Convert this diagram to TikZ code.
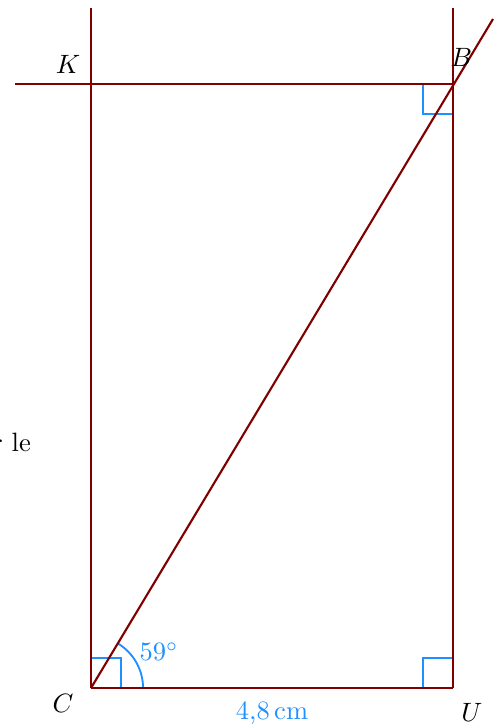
\documentclass[tikz,border=0pt]{standalone}
\usetikzlibrary{calc}
\definecolor{dred}{RGB}{128,0,0}
\definecolor{dblue}{RGB}{30,144,255}
\begin{document}
\begin{tikzpicture}[
  figline/.style={dred,line width=0.8pt},
  marker/.style={dblue,line width=0.7pt},
  lbl/.style={inner sep=1pt}
]
\useasboundingbox (-1.2066,-0.530) rectangle (5.396,9.122);
\coordinate (C) at (0,0);
\coordinate (U) at (4.8,0);
\coordinate (B) at (4.8,8.01);
\coordinate (K) at (0,8.01);
\coordinate (Ktop) at (0,9.02);
\coordinate (Btop) at (4.8,9.02);
\coordinate (Hleft) at (-1.01,8.01);
\coordinate (Dend) at (5.33,8.87);
% right angle marks
\draw[marker] (0,0.4) -- (0.4,0.4) -- (0.4,0);
\draw[marker] (4.4,0) -- (4.4,0.4) -- (4.8,0.4);
\draw[marker] (4.4,8.01) -- (4.4,7.61) -- (4.8,7.61);
\draw[marker] (0.69,0) arc (0:59:0.69);
% lines
\draw[figline] (C) -- (Ktop);
\draw[figline] (U) -- (Btop);
\draw[figline] (Hleft) -- (B);
\draw[figline] (C) -- (U);
\draw[figline] (C) -- (Dend);
% labels
\node[lbl] (lK) at (-0.305,8.27) {$K$};
\node[lbl] (lB) at (4.91,8.36) {$B$};
\node[lbl] (lC) at (-0.37,-0.2) {$C$};
\node[lbl] (lU) at (5.05,-0.32) {$U$};
\node[lbl,dblue] (lw) at (2.4,-0.33) {4,8\,cm};
\node[lbl,dblue] (la) at (0.9,0.48) {$59^\circ$};
\node[lbl,anchor=east] (lt) at (-0.756,3.25) {r le};
\end{tikzpicture}
\end{document}
